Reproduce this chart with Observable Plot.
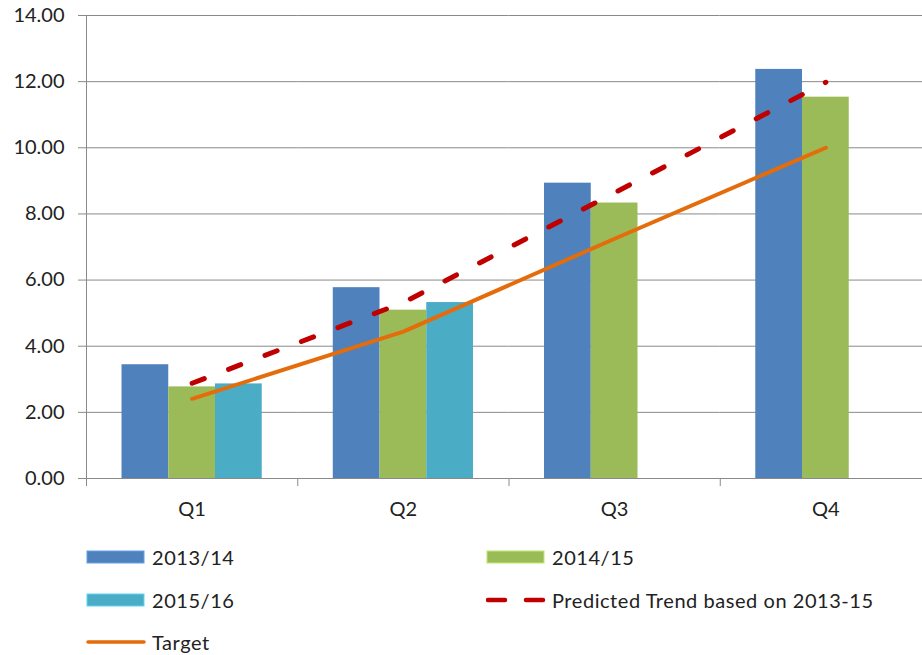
<!DOCTYPE html>
<html>
<head>
<meta charset="utf-8">
<script src="https://cdn.jsdelivr.net/npm/d3@7"></script>
<script src="https://cdn.jsdelivr.net/npm/@observablehq/plot@0.6"></script>
<style>
  html, body { margin: 0; padding: 0; background: #fff; }
  #wrap { position: relative; width: 922px; height: 655px; overflow: hidden; font-family: Lato, sans-serif; }
  #wrap > svg { position: absolute; left: 0; top: 0; }
  .lg { position: absolute; display: flex; align-items: center; font-size: 20px; color: #222; white-space: nowrap; letter-spacing: 0.55px; }
  .lg svg { display: block; margin-right: 6px; }
</style>
</head>
<body>
<div id="wrap"></div>
<script>
const quarters = ["Q1", "Q2", "Q3", "Q4"];
const series = ["2013/14", "2014/15", "2015/16"];
const values201314 = [3.44, 5.77, 8.93, 12.37];
const values201415 = [2.77, 5.09, 8.33, 11.53];
const values201516 = [2.86, 5.32, null, null];
const targetValues = [2.41, 4.44, 7.25, 10.0];
const trendValues = [2.88, 5.32, 8.64, 11.98];
const yTicks = [0, 2, 4, 6, 8, 10, 12, 14];
const trendLabel = "Predicted Trend based on 2013-15";
const targetLabel = "Target";

const seriesColors = ["#4F81BD", "#9BBB59", "#4BACC6"];
const trendColor = "#C00000";
const targetColor = "#E46C0A";
const gridColor = "#8a8a8a";

const seriesValues = [values201314, values201415, values201516];
const barData = [];
quarters.forEach((q, qi) => {
  series.forEach((s, si) => {
    const v = seriesValues[si][qi];
    if (v != null) barData.push({quarter: q, series: s, value: v});
  });
});
const targetData = quarters.map((q, i) => ({pos: i + 0.5, value: targetValues[i]}));
const trendData = quarters.map((q, i) => ({pos: i + 0.5, value: trendValues[i]}));

const W = 932, H = 530;
const common = {
  width: W, height: H,
  marginLeft: 86, marginRight: 1, marginTop: 15, marginBottom: 52,
  style: {fontFamily: "Lato, sans-serif", fontSize: "20px", background: "transparent", maxWidth: "none", color: "#222", position: "absolute", left: "0px", top: "0px"}
};

const bars = Plot.plot({
  ...common,
  fx: {domain: quarters, padding: 0, round: false, axis: null, label: null},
  x: {domain: series, paddingInner: 0, paddingOuter: 0.76, round: false, axis: null, label: null},
  y: {domain: [0, 14], axis: null, label: null},
  color: {domain: series, range: seriesColors},
  marks: [
    Plot.ruleY(yTicks, {stroke: gridColor, strokeWidth: 1}),
    Plot.barY(barData, {fx: "quarter", x: "series", y: "value", fill: "series", inset: 0})
  ]
});

const overlay = Plot.plot({
  ...common,
  x: {domain: [0, quarters.length], label: null},
  y: {domain: [0, 14], label: null},
  marks: [
    Plot.ruleX([0], {stroke: gridColor}),
    Plot.axisY({ticks: yTicks, tickFormat: d3.format(".2f"), tickSize: 8, tickPadding: 14, stroke: gridColor, fill: "#222", fontSize: 20, label: null}),
    Plot.axisX({ticks: quarters.map((q, i) => i), tickFormat: () => "", tickSize: 8, stroke: gridColor, label: null}),
    Plot.axisX({ticks: quarters.map((q, i) => i + 0.5), tickFormat: d => quarters[Math.floor(d)], tickSize: 0, tickPadding: 23, fill: "#222", fontSize: 20, label: null}),
    Plot.line(targetData, {x: "pos", y: "value", stroke: targetColor, strokeWidth: 4, strokeLinecap: "round"}),
    Plot.line(trendData, {x: "pos", y: "value", stroke: trendColor, strokeWidth: 5, strokeLinecap: "round", strokeDasharray: "13,26"})
  ]
});

const wrap = document.getElementById("wrap");
wrap.appendChild(bars);
wrap.appendChild(overlay);

function legendItem(left, cy, swatch, label) {
  const d = document.createElement("div");
  d.className = "lg";
  d.style.left = left + "px";
  d.style.top = (cy - 14) + "px";
  d.style.height = "28px";
  d.innerHTML = swatch + "<span>" + label + "</span>";
  wrap.appendChild(d);
}
const rect = c => `<svg width="60" height="14"><rect x="1" y="1" width="57" height="12" fill="${c}" stroke="${d3.color(c).brighter(0.6)}" stroke-width="1"/></svg>`;
const lineSw = c => `<svg width="60" height="14"><line x1="2" x2="58" y1="7" y2="7" stroke="${c}" stroke-width="3.5" stroke-linecap="round"/></svg>`;
const dashSw = c => `<svg width="60" height="14"><line x1="2" x2="58" y1="7" y2="7" stroke="${c}" stroke-width="4.5" stroke-linecap="round" stroke-dasharray="17,21"/></svg>`;

legendItem(86, 557, rect(seriesColors[0]), series[0]);
legendItem(486, 557, rect(seriesColors[1]), series[1]);
legendItem(86, 600, rect(seriesColors[2]), series[2]);
legendItem(486, 600, dashSw(trendColor), trendLabel);
legendItem(86, 642, lineSw(targetColor), targetLabel);
</script>
</body>
</html>
